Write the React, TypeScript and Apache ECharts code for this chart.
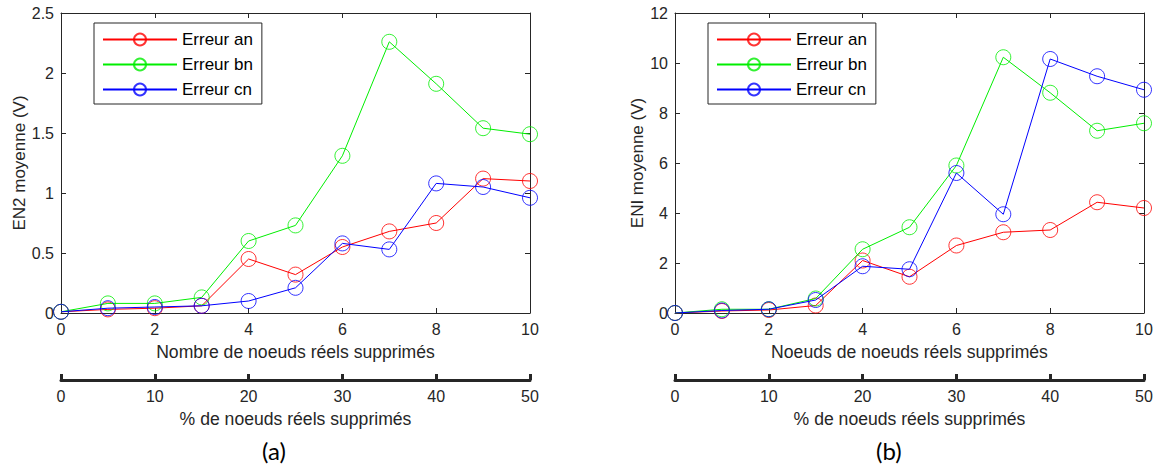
import React, { useEffect, useRef } from "react";
import * as echarts from "echarts";

// ---------- data ----------
const nodesRemoved = [0, 1, 2, 3, 4, 5, 6, 7, 8, 9, 10];
const pctRange = [0, 50];
const pctStep = 10;

const seriesNames = ["Erreur an", "Erreur bn", "Erreur cn"];
const seriesColors = ["#ff0000", "#00ee00", "#0000ff"];

// (a) EN2 moyenne (V)
const en2An = [0.01, 0.03, 0.04, 0.06, 0.45, 0.32, 0.55, 0.68, 0.75, 1.12, 1.1];
const en2Bn = [0.01, 0.08, 0.08, 0.13, 0.6, 0.73, 1.31, 2.26, 1.91, 1.54, 1.49];
const en2Cn = [0.01, 0.04, 0.05, 0.06, 0.1, 0.21, 0.58, 0.53, 1.08, 1.05, 0.96];

// (b) ENI moyenne (V)
const eniAn = [0, 0.08, 0.12, 0.3, 2.1, 1.45, 2.7, 3.23, 3.32, 4.43, 4.2];
const eniBn = [0, 0.15, 0.15, 0.58, 2.55, 3.43, 5.9, 10.23, 8.81, 7.29, 7.59];
const eniCn = [0, 0.1, 0.15, 0.52, 1.87, 1.75, 5.6, 3.95, 10.16, 9.47, 8.93];

const AXIS = "#262626";
const FONT = "Liberation Sans";
const TITLE_SIZE = 17.6;

function buildPanel(
  idx: number,
  gridLeft: number,
  yMax: number,
  yInterval: number,
  yName: string,
  xName: string,
  values: number[][]
) {
  const axisLineStyle = { color: AXIS, width: 1 };
  const tickStyle = { color: AXIS, width: 1 };
  const labelStyle = { fontSize: 16, color: AXIS, fontFamily: FONT };
  const xAxes = [
    {
      gridIndex: idx,
      type: "value",
      position: "bottom",
      min: nodesRemoved[0],
      max: nodesRemoved[nodesRemoved.length - 1],
      interval: 2,
      axisLine: { show: true, onZero: false, lineStyle: axisLineStyle },
      axisTick: { show: true, inside: true, length: 5, lineStyle: tickStyle },
      axisLabel: { ...labelStyle, margin: 8 },
      splitLine: { show: false },
      name: xName,
      nameLocation: "middle",
      nameGap: 30,
      nameTextStyle: { fontSize: TITLE_SIZE, color: AXIS, fontFamily: FONT },
    },
    {
      gridIndex: idx,
      type: "value",
      position: "top",
      min: nodesRemoved[0],
      max: nodesRemoved[nodesRemoved.length - 1],
      interval: 2,
      axisLine: { show: true, onZero: false, lineStyle: axisLineStyle },
      axisTick: { show: true, inside: true, length: 5, lineStyle: tickStyle },
      axisLabel: { show: false },
      splitLine: { show: false },
    },
    {
      gridIndex: idx,
      type: "value",
      position: "bottom",
      offset: 67,
      min: pctRange[0],
      max: pctRange[1],
      interval: pctStep,
      axisLine: { show: true, onZero: false, lineStyle: { color: AXIS, width: 3 } },
      axisTick: { show: true, inside: true, length: 6, lineStyle: { color: AXIS, width: 3 } },
      axisLabel: { ...labelStyle, margin: 8 },
      splitLine: { show: false },
      name: "% de noeuds réels supprimés",
      nameLocation: "middle",
      nameGap: 30,
      nameTextStyle: { fontSize: TITLE_SIZE, color: AXIS, fontFamily: FONT },
    },
  ];
  const yAxes = [
    {
      gridIndex: idx,
      type: "value",
      position: "left",
      min: 0,
      max: yMax,
      interval: yInterval,
      axisLine: { show: true, onZero: false, lineStyle: axisLineStyle },
      axisTick: { show: true, inside: true, length: 5, lineStyle: tickStyle },
      axisLabel: { ...labelStyle, margin: 7 },
      splitLine: { show: false },
      name: yName,
      nameLocation: "middle",
      nameGap: 24,
      nameRotate: 90,
      nameTextStyle: { fontSize: 17, color: AXIS, fontFamily: FONT },
    },
    {
      gridIndex: idx,
      type: "value",
      position: "right",
      min: 0,
      max: yMax,
      interval: yInterval,
      axisLine: { show: true, onZero: false, lineStyle: axisLineStyle },
      axisTick: { show: true, inside: true, length: 5, lineStyle: tickStyle },
      axisLabel: { show: false },
      splitLine: { show: false },
    },
  ];
  const series = values.map((vals, i) => ({
    name: seriesNames[i],
    type: "line",
    xAxisIndex: idx * 3,
    yAxisIndex: idx * 2,
    data: nodesRemoved.map((x, j) => [x, vals[j]]),
    symbol: "circle",
    symbolSize: 15,
    showAllSymbol: true,
    color: seriesColors[i],
    itemStyle: { color: "rgba(0,0,0,0)", borderColor: seriesColors[i], borderWidth: 1, opacity: 0.8 },
    lineStyle: { color: seriesColors[i], width: 1 },
    emphasis: { disabled: true },
    z: 2 + i,
  }));
  const grid = { left: gridLeft, top: 13, width: 469, height: 300 };
  return { xAxes, yAxes, series, grid };
}

export default function App() {
  const ref = useRef<HTMLDivElement>(null);
  useEffect(() => {
    document.body.style.margin = "0";
    if (!ref.current) return;
    const chart = echarts.init(ref.current, undefined, { renderer: "svg" });
    const a = buildPanel(0, 61, 2.5, 0.5, "EN2 moyenne (V)", "Nombre de noeuds réels supprimés", [en2An, en2Bn, en2Cn]);
    const b = buildPanel(1, 675, 12, 2, "ENI moyenne (V)", "Noeuds de noeuds réels supprimés", [eniAn, eniBn, eniCn]);
    const legendBase = {
      orient: "vertical",
      top: 23,
      itemWidth: 74,
      itemHeight: 15,
      itemGap: 8,
      padding: [8, 9, 6, 8],
      borderColor: AXIS,
      borderWidth: 1,
      backgroundColor: "#ffffff",
      borderRadius: 0,
      selectedMode: false,
      textStyle: { fontSize: 17, color: "#000", fontFamily: FONT },
      data: seriesNames,
    };
    chart.setOption({
      animation: false,
      backgroundColor: "#ffffff",
      grid: [a.grid, b.grid],
      xAxis: [...a.xAxes, ...b.xAxes],
      yAxis: [...a.yAxes, ...b.yAxes],
      series: [...a.series, ...b.series],
      legend: [
        { ...legendBase, left: 94 },
        { ...legendBase, left: 708 },
      ],
      title: [
        { text: "(a)", left: 262, top: 438, padding: 0, textStyle: { fontSize: 24, fontWeight: "normal", color: "#000", fontFamily: "Lato" } },
        { text: "(b)", left: 876, top: 438, padding: 0, textStyle: { fontSize: 24, fontWeight: "normal", color: "#000", fontFamily: "Lato" } },
      ],
    });
    return () => chart.dispose();
  }, []);
  return <div ref={ref} style={{ width: 1158, height: 466 }} />;
}
